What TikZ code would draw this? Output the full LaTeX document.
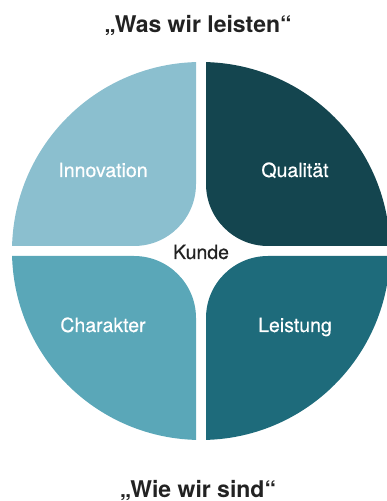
\documentclass[tikz,border=0pt]{standalone}
\usepackage{fontspec}
\setmainfont{TeX Gyre Heros}
\newfontfamily\mediumfont[FakeBold=0.5]{TeX Gyre Heros}
\usetikzlibrary{positioning, calc}
\definecolor{cInno}{RGB}{139,191,207}
\definecolor{cQual}{RGB}{20,69,79}
\definecolor{cChar}{RGB}{90,167,184}
\definecolor{cLeist}{RGB}{30,107,123}
\definecolor{cText}{RGB}{34,34,34}
\tikzset{
	title/.style    ={anchor=base, text=cText, font=\fontsize{23}{27}\selectfont\bfseries, inner sep=0pt},
	segtext/.style  ={anchor=base, text=white, font=\mediumfont\fontsize{19.5}{23}\selectfont, inner sep=0pt},
	hubtext/.style  ={anchor=base, text=cText, font=\mediumfont\fontsize{19.5}{23}\selectfont, inner sep=0pt},
	% one quarter of the disc, drawn in the upper right and mirrored
	quarter/.pic    ={\fill (5,188.93) -- (5,67) arc[start angle=180, end angle=270, radius=62]
		-- (188.93,5) arc[start angle=1.52, end angle=88.48, radius=189] -- cycle;},
}

\begin{document}
\begin{tikzpicture}[x=1pt, y=1pt]
	\useasboundingbox (0,0) rectangle (387,501);
	\clip (0,0) rectangle (387,501);
	\coordinate (hub) at (201,250);
	% the four segments
	\foreach \sx/\sy/\col in {1/1/cQual, -1/1/cInno, -1/-1/cChar, 1/-1/cLeist}
		\pic[fill=\col, xscale=\sx, yscale=\sy] at (hub) {quarter};
	\node[segtext] (inno) at (103,324) {Innovation};
	\node[segtext] (qual) at (295,324) {Qualität};
	\node[segtext] (char) at (103,169) {Charakter};
	\node[segtext] (leist) at (295,169) {Leistung};
	\node[hubtext] (kunde) at (201,242) {Kunde};
	\node[title] (top) at (198,468) {„Was wir leisten“};
	\node[title] (bottom) at (198,4) {„Wie wir sind“};
\end{tikzpicture}
\end{document}
